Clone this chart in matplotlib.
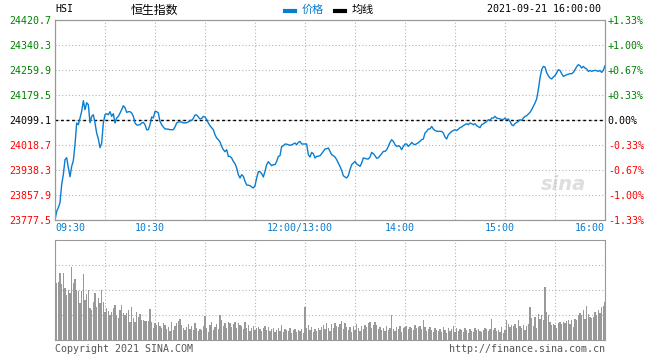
import numpy as np
import matplotlib
matplotlib.use("Agg")
import matplotlib.pyplot as plt
import matplotlib.transforms as mtransforms
from matplotlib.lines import Line2D

W, H = 660, 360

prev_close = 24099.1
price_ticks = [24420.7, 24340.3, 24259.9, 24179.5, 24099.1, 24018.7, 23938.3, 23857.9, 23777.5]
pct_labels = ["+1.33%", "+1.00%", "+0.67%", "+0.33%", "0.00%", "-0.33%", "-0.67%", "-1.00%", "-1.33%"]
time_ticks = [0, 60, 150, 210, 270, 330]
time_labels = ["09:30", "10:30", "12:00/13:00", "14:00", "15:00", "16:00"]

# one price per minute, 09:30 -> 16:00 (12:00 and 13:00 share a slot)
price = [
    23777.5, 23805.2, 23817.1, 23833.2, 23891.0, 23923.2, 23971.4, 23977.9, 23945.7, 23916.8,
    23949.9, 23968.2, 24019.7, 24089.5, 24084.0, 24105.5, 24126.8, 24161.2, 24132.2, 24154.8,
    24148.3, 24090.4, 24110.7, 24116.2, 24089.5, 24057.3, 24038.0, 24010.0, 24025.1, 24089.5,
    24116.2, 24119.4, 24116.2, 24125.8, 24110.7, 24119.4, 24089.5, 24105.5, 24110.7, 24121.6,
    24132.2, 24145.1, 24138.7, 24123.6, 24125.8, 24125.8, 24121.6, 24110.7, 24089.5, 24083.0,
    24083.0, 24084.0, 24089.5, 24091.4, 24084.0, 24067.9, 24067.9, 24084.0, 24108.8, 24105.5,
    24126.8, 24125.8, 24121.6, 24094.6, 24084.0, 24076.6, 24070.2, 24070.2, 24069.5, 24067.9,
    24067.9, 24067.9, 24076.6, 24089.5, 24092.7, 24092.7, 24092.7, 24089.5, 24089.5, 24090.4,
    24092.7, 24096.9, 24097.8, 24104.3, 24115.2, 24115.2, 24108.8, 24102.3, 24104.3, 24110.7,
    24108.8, 24100.1, 24089.5, 24080.8, 24074.4, 24067.9, 24051.8, 24041.2, 24035.8, 24028.4,
    24014.2, 24003.6, 23997.2, 24003.6, 23982.0, 23982.0, 23976.9, 23966.0, 23958.6, 23944.8,
    23923.2, 23912.6, 23923.2, 23917.9, 23901.8, 23890.1, 23889.5, 23887.9, 23883.7, 23880.4,
    23887.9, 23912.6, 23932.9, 23932.9, 23926.4, 23915.8, 23933.9, 23955.4, 23965.0, 23958.6,
    23952.1, 23955.4, 23955.4, 23966.0, 23982.0, 23984.3, 24014.2, 24016.4, 24021.9, 24021.3,
    24019.7, 24017.4, 24019.7, 24021.9, 24025.1, 24019.7, 24027.1, 24030.3, 24021.9, 24021.9,
    24021.9, 24021.9, 23987.5, 23980.1, 23994.9, 23990.7, 23976.9, 23982.0, 23982.7, 23984.3,
    23990.7, 23998.1, 24005.9, 24006.8, 24009.1, 23998.1, 23987.5, 23984.3, 23980.1, 23971.4,
    23960.8, 23949.9, 23937.0, 23920.0, 23915.8, 23912.6, 23920.0, 23939.3, 23955.4, 23960.8,
    23966.0, 23957.6, 23954.4, 23949.9, 23960.8, 23976.9, 23975.9, 23973.7, 23973.7, 23980.1,
    23994.9, 23990.7, 23984.3, 23975.9, 23977.9, 23984.3, 23990.7, 23998.1, 23998.1, 24003.6,
    24014.2, 24027.1, 24035.8, 24030.3, 24019.7, 24014.2, 24016.4, 24013.2, 24003.6, 24014.2,
    24021.9, 24021.9, 24014.2, 24019.7, 24027.1, 24021.9, 24019.7, 24022.9, 24026.1, 24031.0,
    24035.8, 24038.0, 24057.3, 24062.5, 24070.2, 24070.2, 24078.5, 24070.2, 24065.3, 24063.1,
    24062.5, 24062.5, 24062.5, 24057.3, 24044.4, 24038.0, 24051.8, 24057.3, 24062.4, 24065.3,
    24067.9, 24065.3, 24069.5, 24074.4, 24076.6, 24080.8, 24084.0, 24087.2, 24084.0, 24089.5,
    24087.2, 24084.0, 24087.2, 24080.8, 24077.6, 24074.4, 24084.0, 24087.2, 24090.4, 24094.6,
    24100.1, 24097.8, 24105.5, 24105.5, 24110.7, 24105.5, 24103.9, 24102.3, 24101.0, 24100.1,
    24105.5, 24100.1, 24102.3, 24094.6, 24084.0, 24080.8, 24087.2, 24091.4, 24094.6, 24100.1,
    24097.8, 24105.5, 24110.7, 24112.9, 24118.4, 24123.6, 24132.2, 24142.9, 24153.8, 24166.7,
    24196.6, 24234.2, 24260.9, 24271.5, 24269.6, 24251.2, 24241.6, 24234.2, 24231.0, 24237.4,
    24241.6, 24250.3, 24260.9, 24258.6, 24248.0, 24239.3, 24241.6, 24244.8, 24246.4, 24248.0,
    24248.0, 24252.2, 24260.9, 24270.5, 24277.0, 24273.7, 24266.3, 24271.5, 24266.3, 24263.1,
    24255.4, 24258.6, 24255.4, 24257.7, 24258.6, 24257.7, 24255.4, 24258.6, 24252.2, 24258.6,
    24273.7,
]

# volume per minute, in % of the volume panel height (no scale shown on the chart)
volume = [
    75.5, 57, 58, 67, 56, 67, 52, 45, 50, 47,
    73, 57, 61, 50, 49, 37, 49, 66, 40, 46,
    50, 32, 30, 38, 47, 33, 42, 37, 50, 38,
    28, 32, 29, 25, 28, 32, 35, 25, 22, 30,
    35, 27, 25, 27, 30, 18, 33, 22, 18, 28,
    23, 26, 20, 20, 19, 19, 19, 31, 18, 12,
    17, 15, 18, 14, 12, 17, 15, 11, 13, 9,
    18, 10, 14, 17, 19, 21, 15, 12, 10, 13,
    16, 11, 14, 10, 17, 12, 9, 11, 10, 14,
    24, 12, 8, 15, 18, 10, 13, 16, 11, 25,
    20, 14, 17, 12, 18, 17, 13, 16, 18, 12,
    17, 15, 14, 11, 18, 12, 15, 9, 12, 14,
    10, 12, 13, 11, 9, 12, 14, 10, 13, 9,
    11, 12, 8, 10, 12, 9, 15, 8, 11, 10,
    9, 12, 7, 10, 11, 8, 10, 9, 11, 7,
    33, 12, 15, 10, 13, 8, 11, 9, 12, 10,
    13, 15, 11, 17, 12, 9, 16, 12, 17, 14,
    13, 16, 19, 11, 17, 13, 10, 13, 8, 14,
    10, 16, 12, 9, 14, 11, 15, 13, 17, 18,
    12, 15, 18, 15, 11, 13, 10, 12, 9, 14,
    10, 12, 25, 11, 9, 13, 11, 14, 8, 12,
    13, 14, 11, 13, 12, 10, 15, 12, 13, 14,
    11, 20, 13, 9, 11, 13, 10, 8, 12, 10,
    9, 11, 8, 13, 10, 7, 12, 9, 11, 14,
    8, 12, 9, 11, 10, 8, 12, 10, 7, 11,
    9, 8, 12, 10, 11, 9, 8, 10, 12, 11,
    9, 11, 21, 10, 12, 9, 10, 8, 13, 7,
    10, 20, 16, 13, 15, 14, 16, 12, 20, 14,
    12, 15, 10, 14, 16, 33, 22, 14, 23, 12,
    26, 21, 25, 20, 53, 28, 25, 18, 15, 16,
    15, 12, 17, 18, 16, 18, 17, 19, 20, 16,
    20, 13, 21, 20, 25, 27, 25, 30, 21, 34,
    26, 23, 22, 23, 28, 25, 30, 27, 33, 34,
    38,
]

minutes = np.arange(len(price))

MONO = "DejaVu Sans Mono"
CJK = ["Noto Sans CJK SC", "DejaVu Sans"]
FS = 7.2
BLUE = "#0a7dd0"
FRAME = "#999999"
GRID = "#b4b4b4"


def color_for(v):
    if abs(v - prev_close) < 0.05:
        return "black"
    return "#008000" if v > prev_close else "#ff0000"


fig = plt.figure(figsize=(W / 100, H / 100), dpi=100)
fig.patch.set_facecolor("white")

# price panel
ax = fig.add_axes([55 / W, 1 - 220 / H, 550 / W, 200 / H])
ax.plot(minutes, price, color=BLUE, lw=1.0, zorder=3)
ax.axhline(prev_close, color="black", lw=1.0, ls=(0, (2, 2)), zorder=2)
ax.set_xlim(0, 330)
ax.set_ylim(price_ticks[-1], price_ticks[0])
ax.set_xticks(np.arange(0, 331, 30))
ax.set_xticklabels([])
ax.set_yticks(price_ticks)
ax.set_yticklabels([f"{v:.1f}" for v in price_ticks], fontfamily=MONO, fontsize=FS)
for lab, v in zip(ax.get_yticklabels(), price_ticks):
    lab.set_color(color_for(v))
ax.tick_params(length=0, pad=3)
ax.grid(True, color=GRID, ls=(0, (1, 2)), lw=0.8)
for s in ax.spines.values():
    s.set_color(FRAME)

ax2 = ax.twinx()
ax2.set_ylim(ax.get_ylim())
ax2.set_yticks(price_ticks)
ax2.set_yticklabels(pct_labels, fontfamily=MONO, fontsize=FS)
for lab, v in zip(ax2.get_yticklabels(), price_ticks):
    lab.set_color(color_for(v))
ax2.tick_params(length=0, pad=2)
for s in ax2.spines.values():
    s.set_color(FRAME)

# time labels below the price panel
for t, lab in zip(time_ticks, time_labels):
    if t == time_ticks[0]:
        ha, dx = "left", 0
    elif t == time_ticks[-1]:
        ha, dx = "right", 0
    else:
        ha, dx = "center", -5.5
    tr = ax.get_xaxis_transform() + mtransforms.ScaledTranslation(dx / 100, 0, fig.dpi_scale_trans)
    ax.text(t, -0.04, lab, transform=tr, ha=ha, va="center", color=BLUE,
            fontfamily=MONO, fontsize=FS)

# faint watermark
ax.text(0.925, 0.18, "sina", transform=ax.transAxes, ha="center", va="center",
        color="#dedede", fontsize=14, fontstyle="italic", fontweight="bold", zorder=1)

# volume panel
vax = fig.add_axes([55 / W, 1 - 340 / H, 550 / W, 100 / H])
vax.bar(minutes, volume, width=0.65, color="#999999", linewidth=0, zorder=3)
vax.set_xlim(0, 330)
vax.set_ylim(0, 100)
vax.set_xticks(np.arange(0, 331, 30))
vax.set_yticks([25, 50, 75])
vax.set_xticklabels([])
vax.set_yticklabels([])
vax.tick_params(length=0)
vax.grid(True, color=GRID, ls=(0, (1, 2)), lw=0.8)
for s in vax.spines.values():
    s.set_color(FRAME)

# header
fig.text(55 / W, 1 - 9 / H, "HSI", fontfamily=MONO, fontsize=FS, va="center", ha="left")
fig.text(154 / W, 1 - 10 / H, "恒生指数", family=CJK, fontsize=8.6, va="center", ha="center")
fig.add_artist(Line2D([285 / W, 295 / W], [1 - 11 / H, 1 - 11 / H], color=BLUE, lw=3,
                      transform=fig.transFigure))
fig.text(302 / W, 1 - 10 / H, "价格", family=CJK, fontsize=8, color=BLUE, va="center", ha="left")
fig.add_artist(Line2D([335 / W, 345 / W], [1 - 11 / H, 1 - 11 / H], color="black", lw=3,
                      transform=fig.transFigure))
fig.text(352 / W, 1 - 10 / H, "均线", family=CJK, fontsize=8, color="black", va="center", ha="left")
fig.text(601 / W, 1 - 9 / H, "2021-09-21 16:00:00", fontfamily=MONO, fontsize=FS,
         va="center", ha="right")

# footer
fig.text(55 / W, 1 - 349 / H, "Copyright 2021 SINA.COM", fontfamily=MONO, fontsize=FS,
         color="#555555", va="center", ha="left")
fig.text(605 / W, 1 - 349 / H, "http://finance.sina.com.cn", fontfamily=MONO, fontsize=FS,
         color="#555555", va="center", ha="right")

fig.savefig("out.png", dpi=100)
